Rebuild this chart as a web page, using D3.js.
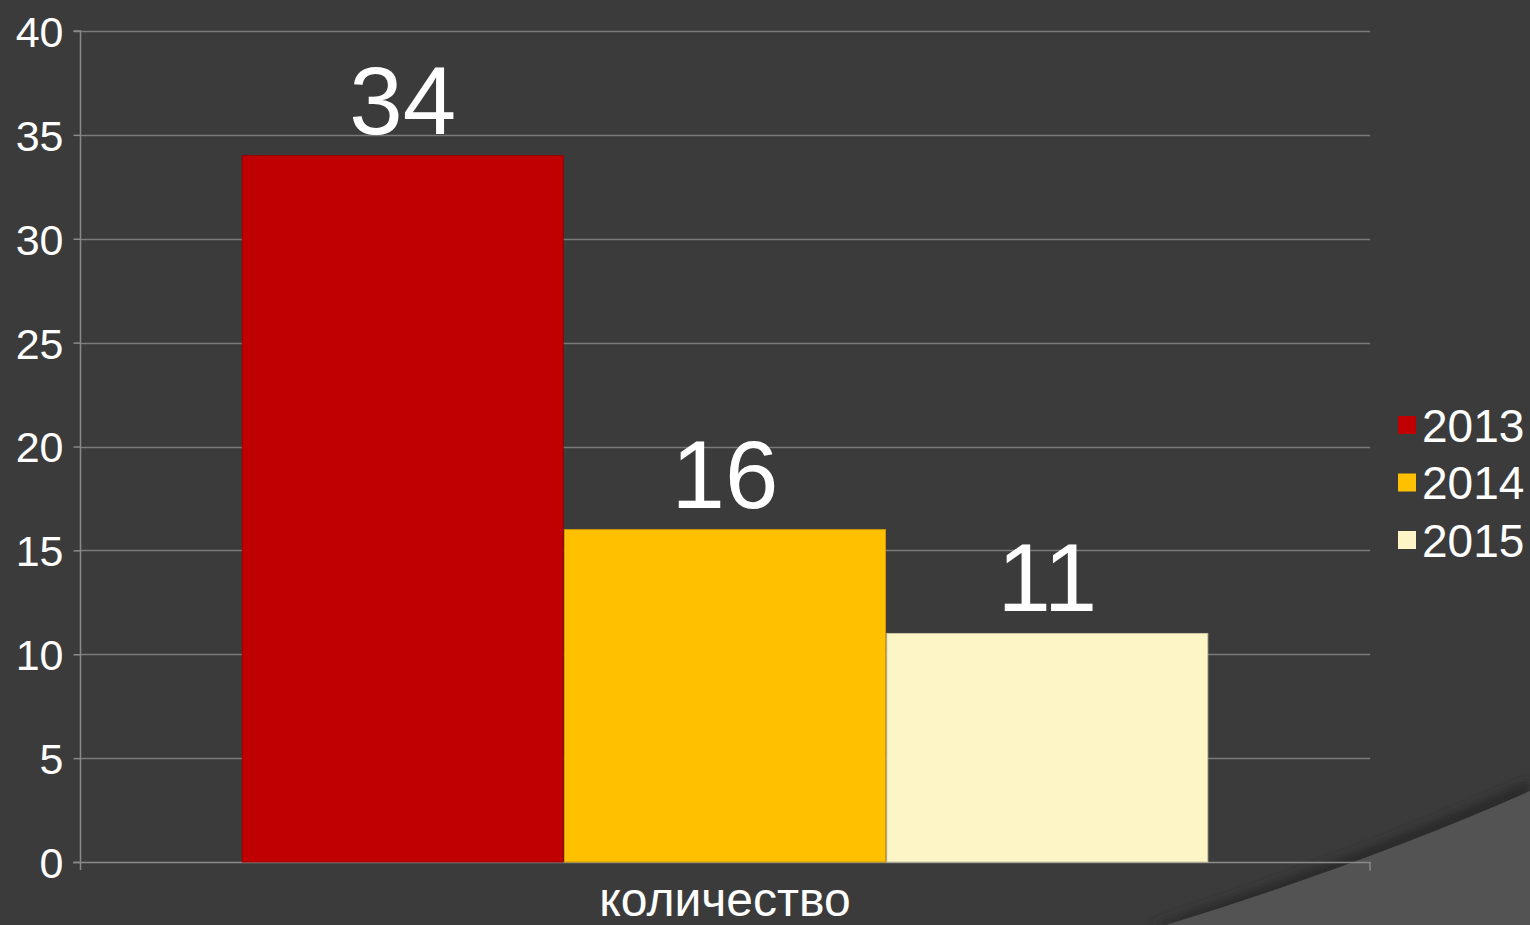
<!DOCTYPE html>
<html>
<head>
<meta charset="utf-8">
<script src="https://cdn.jsdelivr.net/npm/d3@7"></script>
<style>
  html, body { margin: 0; padding: 0; background: #3b3b3b; overflow: hidden; }
  text { font-family: "Liberation Sans", Arial, sans-serif; fill: #ffffff; }
</style>
</head>
<body>
<div id="chart"></div>
<script>
// chart data
var categories = ['количество'];
var seriesNames = ['2013', '2014', '2015'];
var seriesValues = [34, 16, 11];
var seriesColors = ['#c00000', '#ffc000', '#fdf5c6'];
var yTicks = [0, 5, 10, 15, 20, 25, 30, 35, 40];

var width = 1530, height = 925;
var margin = {left: 80, right: 160, top: 31, bottom: 63};
var plotRight = width - margin.right;   // 1370
var plotBottom = height - margin.bottom; // 862

var svg = d3.select('#chart')
  .append('svg')
  .attr('width', width)
  .attr('height', height);

svg.append('rect')
  .attr('width', width)
  .attr('height', height)
  .attr('fill', '#3b3b3b');

// slide decoration in the corner, with a soft shadow on its edge
var defs = svg.append('defs');
defs.append('filter')
  .attr('id', 'blur')
  .append('feGaussianBlur')
  .attr('stdDeviation', 5);

svg.append('path')
  .attr('d', 'M1150,925 Q1360,856 1530,780 L1530,925 Z')
  .attr('fill', '#2c2c2c')
  .attr('filter', 'url(#blur)');

svg.append('path')
  .attr('d', 'M1166,925 Q1370,862 1530,791 L1530,925 Z')
  .attr('fill', '#535353');

var y = d3.scaleLinear()
  .domain([0, 40])
  .range([plotBottom, margin.top]);

var x0 = d3.scaleBand()
  .domain(categories)
  .range([margin.left, plotRight])
  .paddingInner(0)
  .paddingOuter(0.168);

var x1 = d3.scaleBand()
  .domain(seriesNames)
  .range([0, x0.bandwidth()])
  .paddingInner(0.004);

// gridlines
svg.append('g')
  .selectAll('line')
  .data(yTicks.filter(function(d) { return d > 0; }))
  .enter()
  .append('line')
  .attr('x1', margin.left)
  .attr('x2', plotRight)
  .attr('y1', function(d) { return Math.round(y(d)) + 0.5; })
  .attr('y2', function(d) { return Math.round(y(d)) + 0.5; })
  .attr('stroke', '#7a7a7a')
  .attr('stroke-width', 1.5);

// y axis
var yAxis = svg.append('g')
  .attr('transform', 'translate(' + (margin.left + 0.5) + ',0)')
  .call(d3.axisLeft(y).tickValues(yTicks).tickSize(7).tickPadding(10));
yAxis.select('.domain').attr('stroke', '#8a8a8a').attr('stroke-width', 1.5)
  .attr('d', 'M-7,' + (margin.top) + 'H0V' + (plotBottom + 8));
yAxis.selectAll('.tick line').attr('stroke', '#8a8a8a').attr('stroke-width', 1.5);
yAxis.selectAll('.tick text')
  .style('font-size', '43px')
  .attr('fill', '#ffffff')
  .attr('dy', '0.36em');

// x axis
var xAxis = svg.append('g')
  .attr('transform', 'translate(0,' + (Math.round(plotBottom) + 0.5) + ')')
  .call(d3.axisBottom(x0).tickSize(0).tickPadding(19));
xAxis.select('.domain').attr('stroke', '#8a8a8a').attr('stroke-width', 1.5)
  .attr('d', 'M' + (margin.left - 7) + ',0H' + plotRight + 'V8');
xAxis.selectAll('.tick text')
  .style('font-size', '48px')
  .attr('fill', '#ffffff');

// bars
var group = svg.append('g')
  .selectAll('g')
  .data(categories)
  .enter()
  .append('g')
  .attr('transform', function(d) { return 'translate(' + x0(d) + ',0)'; });

group.selectAll('rect')
  .data(seriesNames.map(function(s, i) { return {name: s, value: seriesValues[i], color: seriesColors[i]}; }))
  .enter()
  .append('rect')
  .attr('x', function(d) { return x1(d.name); })
  .attr('y', function(d) { return y(d.value); })
  .attr('width', x1.bandwidth())
  .attr('height', function(d) { return plotBottom - y(d.value); })
  .attr('fill', function(d) { return d.color; })
  .attr('stroke', function(d) { return d3.color(d.color).darker(0.6); })
  .attr('stroke-width', 1);

// value labels
group.selectAll('.value')
  .data(seriesNames.map(function(s, i) { return {name: s, value: seriesValues[i]}; }))
  .enter()
  .append('text')
  .attr('class', 'value')
  .attr('x', function(d) { return x1(d.name) + x1.bandwidth() / 2; })
  .attr('y', function(d) { return y(d.value) - 22; })
  .attr('text-anchor', 'middle')
  .style('font-size', '96px')
  .text(function(d) { return d.value; });

// legend
var legend = svg.append('g')
  .attr('transform', 'translate(1398,425)');

var items = legend.selectAll('g')
  .data(seriesNames)
  .enter()
  .append('g')
  .attr('transform', function(d, i) { return 'translate(0,' + (i * 57.5) + ')'; });

items.append('rect')
  .attr('x', 0)
  .attr('y', -9)
  .attr('width', 18)
  .attr('height', 18)
  .attr('fill', function(d, i) { return seriesColors[i]; });

items.append('text')
  .attr('x', 24)
  .attr('y', 0)
  .attr('dy', '0.36em')
  .style('font-size', '46px')
  .text(function(d) { return d; });
</script>
</body>
</html>
